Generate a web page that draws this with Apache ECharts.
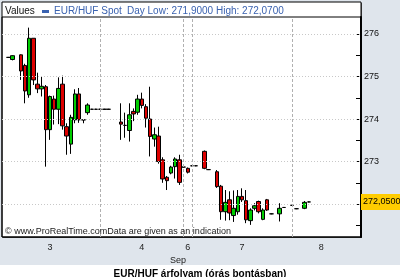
<!DOCTYPE html>
<html><head><meta charset="utf-8">
<script src="https://cdn.jsdelivr.net/npm/echarts@6/dist/echarts.min.js"></script>
<style>html,body{margin:0;padding:0;background:#fff}#c{width:400px;height:277px}</style>
</head><body><div id="c"></div>
<script>
// hourly slots (one per hour); '-' = no candle
const hours = [];
for (let i = 0; i < 86; i++) hours.push('h' + i);
// [open, close, low, high]
const candles = [
 '-',
 [275.45,275.45,275.44,275.46],
 [275.40,275.49,275.38,275.50],
 '-',
 [275.51,275.13,274.92,275.52],
 [275.26,274.66,274.37,275.30],
 [274.57,275.90,274.50,276.15],
 [275.90,274.92,274.80,275.90],
 [274.82,274.71,274.61,275.09],
 [274.71,274.77,274.53,275.00],
 [274.76,273.75,272.88,274.80],
 [273.75,274.53,273.51,274.55],
 [274.47,274.23,273.87,274.55],
 [274.23,274.72,273.88,274.98],
 [274.82,273.84,273.75,275.02],
 [273.82,273.60,273.16,273.90],
 [273.41,274.04,273.18,274.10],
 [273.98,274.59,273.90,274.70],
 [274.59,273.98,273.91,274.73],
 [273.98,273.98,273.90,273.99],
 [274.15,274.33,274.10,274.37],
 [274.23,274.23,274.22,274.24],
 [274.23,274.23,274.22,274.24],
 [274.23,274.23,274.22,274.24],
 [274.23,274.23,274.22,274.24],
 [274.23,274.23,274.22,274.24],
 '-',
 '-',
 [273.93,273.88,273.51,274.37],
 [273.85,273.85,273.56,274.15],
 [273.73,274.10,273.47,274.37],
 [274.18,274.12,273.95,274.25],
 [274.16,274.47,274.10,274.57],
 [274.47,274.32,274.25,274.62],
 [274.29,274.02,273.80,274.35],
 [274.00,273.59,273.12,274.76],
 [273.53,273.63,273.35,273.80],
 [273.60,273.00,272.95,273.82],
 [273.04,272.59,272.50,273.10],
 [272.63,272.55,272.33,272.66],
 [272.73,272.87,272.70,272.90],
 [272.88,273.06,272.60,273.10],
 [273.04,272.51,272.45,273.16],
 [272.87,272.87,272.86,272.88],
 [272.84,272.75,272.72,272.86],
 [272.90,272.90,272.89,272.91],
 [272.90,272.90,272.89,272.91],
 '-',
 [273.24,272.84,272.82,273.26],
 [272.81,272.81,272.80,272.82],
 '-',
 [272.76,272.41,272.38,272.80],
 [272.42,271.82,271.63,272.45],
 [271.82,272.04,271.61,272.33],
 [272.10,271.79,271.62,272.30],
 [271.73,271.90,271.58,272.32],
 [271.82,272.18,271.75,272.33],
 [272.18,272.10,272.05,272.37],
 [272.08,271.63,271.55,272.33],
 [271.61,271.86,271.51,271.90],
 [271.90,271.96,271.85,272.02],
 [272.06,271.82,271.78,272.08],
 [271.64,271.86,271.62,271.90],
 [272.10,271.86,271.84,272.12],
 [271.77,271.77,271.76,271.78],
 '-',
 [271.77,271.90,271.59,272.02],
 [271.92,271.92,271.91,271.93],
 '-',
 [271.97,271.97,271.96,271.98],
 [271.89,271.89,271.88,271.90],
 '-',
 [271.90,272.04,271.88,272.07],
 [272.05,272.05,272.04,272.06],
 '-','-','-','-','-','-','-','-','-','-','-','-'
];
const dayLabelIdx = [11, 33, 44, 57, 76];
const dayLabels = ['3', '4', '6', '7', '8'];
const daySeparators = [23, 43, 45, 69];
const yLabelValues = [273, 274, 275, 276];
const yTickValues = [271.5, 272, 272.5, 273, 273.5, 274, 274.5, 275, 275.5, 276];
const yGridValues = [272, 273, 274, 275, 276];
const lastPrice = 272.05;
const lastPriceText = '272,0500';
const headerSeries = 'EUR/HUF Spot';
const headerStats = 'Day Low: 271,9000 High: 272,0700';
const chartTitle = 'EUR/HUF árfolyam (órás bontásban)';
const credit = '© www.ProRealTime.comData are given as an indication';

const FONT = '"Liberation Sans", Arial, sans-serif';
const chart = echarts.init(document.getElementById('c'), null, {renderer: 'canvas'});

const markData = [];
yGridValues.forEach(v => markData.push({yAxis: v, lineStyle: {color: '#c8c8c8', type: [1, 2], width: 1}, label: {show: false}}));
daySeparators.forEach(i => markData.push({xAxis: i, lineStyle: {color: '#b0b0b0', type: [3, 2], width: 1}, label: {show: false}}));

chart.setOption({
  animation: false,
  backgroundColor: '#fff',
  title: {text: chartTitle, left: 'center', top: 264,
    textStyle: {fontFamily: FONT, fontSize: 10, fontWeight: 'bold', color: '#000'}},
  graphic: [
    {type: 'rect', z: -10, shape: {x: 0, y: 0, width: 400, height: 265}, style: {fill: '#dfe5ec'}},
    {type: 'rect', z: -9, shape: {x: 3, y: 3, width: 359, height: 235}, style: {fill: '#555'}},
    {type: 'rect', z: -8, shape: {x: 2, y: 2, width: 359, height: 235}, style: {fill: '#fff', stroke: '#000', lineWidth: 1}},
    {type: 'text', left: 5, top: 6, style: {text: 'Values', font: '10px ' + FONT, fill: '#111'}},
    {type: 'rect', shape: {x: 42, y: 10, width: 7, height: 3}, style: {fill: '#3a62b0'}},
    {type: 'text', left: 54, top: 6, style: {text: headerSeries, font: '10px ' + FONT, fill: '#3a62b0'}},
    {type: 'text', left: 127, top: 6, style: {text: headerStats, font: '10px ' + FONT, fill: '#3a62b0'}},
    {type: 'text', left: 5, top: 227, z: 10, style: {text: credit, font: '9px ' + FONT, fill: '#222'}},
    {type: 'text', left: 170, top: 256, style: {text: 'Sep', font: '9px ' + FONT, fill: '#222'}}
  ],
  grid: {left: 2, right: 39, top: 17, bottom: 40, show: true, backgroundColor: 'transparent', borderColor: '#000', borderWidth: 1},
  xAxis: {
    type: 'category', data: hours, boundaryGap: true,
    axisLine: {show: false}, axisTick: {show: false}, splitLine: {show: false},
    axisLabel: {interval: 0, margin: 6, fontFamily: FONT, fontSize: 9, color: '#222',
      formatter: (v, i) => { const k = dayLabelIdx.indexOf(i); return k >= 0 ? dayLabels[k] : ''; }}
  },
  yAxis: [{
    type: 'value', position: 'right', min: 271.225, max: 276.4, scale: true,
    axisLine: {show: true, lineStyle: {color: '#000', width: 2}},
    axisTick: {show: true, inside: true, length: 5, customValues: yTickValues, lineStyle: {color: '#000'}},
    axisLabel: {customValues: yLabelValues, margin: 3, fontFamily: FONT, fontSize: 9, color: '#111'},
    splitLine: {show: false},
    axisPointer: {show: false}
  }],
  series: [{
    type: 'candlestick', data: candles, barWidth: 4, clip: false,
    itemStyle: {color: '#00cc00', color0: '#dd0000', borderColor: '#000', borderColor0: '#000', borderColorDoji: '#000', borderWidth: 1},
    markLine: {silent: true, symbol: 'none', animation: false, data: markData}
  }, {
    type: 'line', data: [], silent: true,
    markLine: {silent: true, symbol: 'none', animation: false,
      lineStyle: {color: 'rgba(0,0,0,0)', width: 1},
      label: {show: true, position: 'end', distance: 0, formatter: lastPriceText, fontFamily: FONT, fontSize: 9,
        color: '#000', backgroundColor: '#ffcc00', padding: [4, 6, 3, 2]},
      data: [{yAxis: lastPrice}]}
  }]
});
</script></body></html>
